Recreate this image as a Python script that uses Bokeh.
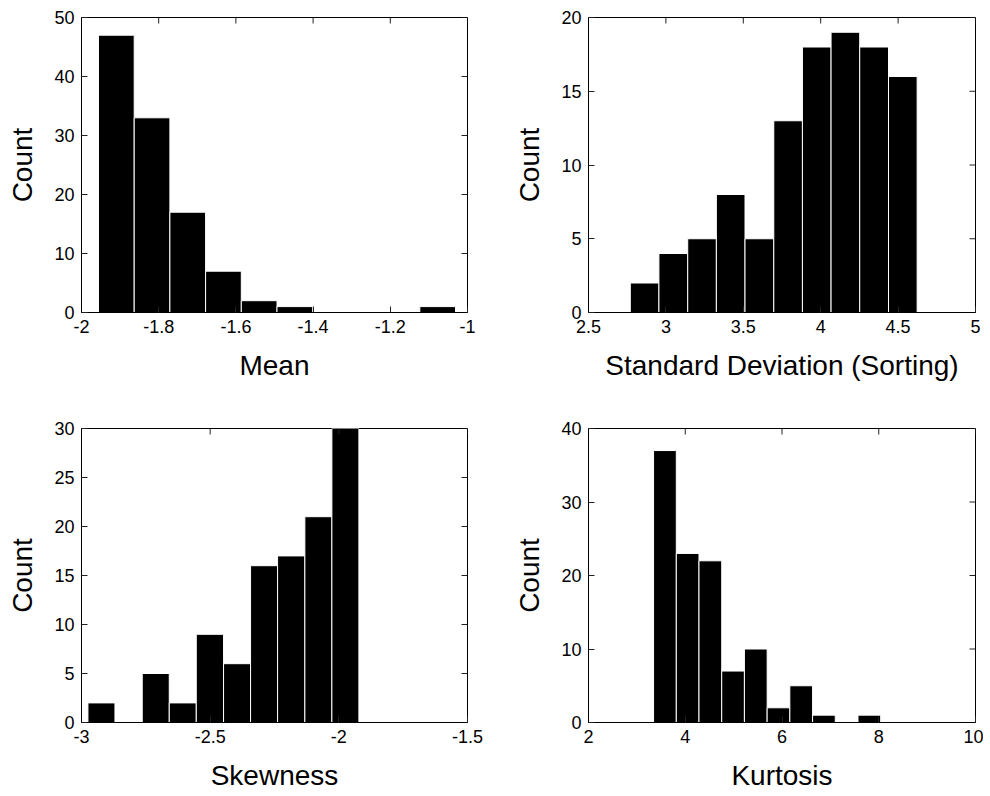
import math
from bokeh.plotting import figure
from bokeh.layouts import column, row
from bokeh.models import Range1d, FixedTicker, CustomJSTickFormatter, ColumnDataSource
from bokeh.embed import file_html
from bokeh.resources import INLINE

# ---------------- data ----------------
mean_edges = [-1.956, -1.8635, -1.771, -1.6785, -1.586, -1.4935, -1.401, -1.3085, -1.216, -1.1235, -1.031]
mean_counts = [47, 33, 17, 7, 2, 1, 0, 0, 0, 1]
mean_xticks = [-2, -1.8, -1.6, -1.4, -1.2, -1]
mean_xlabels = ["-2", "-1.8", "-1.6", "-1.4", "-1.2", "-1"]
mean_yticks = [0, 10, 20, 30, 40, 50]

std_edges = [2.770, 2.955, 3.141, 3.326, 3.511, 3.697, 3.882, 4.067, 4.252, 4.438, 4.623]
std_counts = [2, 4, 5, 8, 5, 13, 18, 19, 18, 16]
std_xticks = [2.5, 3, 3.5, 4, 4.5, 5]
std_xlabels = ["2.5", "3", "3.5", "4", "4.5", "5"]
std_yticks = [0, 5, 10, 15, 20]

skew_edges = [-2.975, -2.870, -2.764, -2.659, -2.554, -2.448, -2.343, -2.238, -2.132, -2.027, -1.922]
skew_counts = [2, 0, 5, 2, 9, 6, 16, 17, 21, 30]
skew_xticks = [-3, -2.5, -2, -1.5]
skew_xlabels = ["-3", "-2.5", "-2", "-1.5"]
skew_yticks = [0, 5, 10, 15, 20, 25, 30]

kurt_edges = [3.345, 3.815, 4.284, 4.754, 5.223, 5.693, 6.162, 6.632, 7.101, 7.571, 8.040]
kurt_counts = [37, 23, 22, 7, 10, 2, 5, 1, 0, 1]
kurt_xticks = [2, 4, 6, 8, 10]
kurt_xlabels = ["2", "4", "6", "8", "10"]
kurt_yticks = [0, 10, 20, 30, 40]

FONT = "Liberation Sans"
TICK_LEN = 6


def fmt(vals, labs):
    return CustomJSTickFormatter(
        args=dict(vals=list(vals), labs=list(labs)),
        code="const i = vals.findIndex(v => Math.abs(v - tick) < 1e-9); return i >= 0 ? labs[i] : String(tick);",
    )


def style_axis(ax, ticks, label_standoff):
    ax.ticker = FixedTicker(ticks=ticks)
    ax.major_tick_in = TICK_LEN
    ax.major_tick_out = 0
    ax.minor_tick_in = 0
    ax.minor_tick_out = 0
    ax.axis_line_color = "black"
    ax.major_tick_line_color = "#222222"
    ax.major_label_text_font = FONT
    ax.major_label_text_font_size = "18px"
    ax.major_label_text_color = "black"
    ax.major_label_standoff = 7
    ax.axis_label_text_font = FONT
    ax.axis_label_text_font_size = "28px"
    ax.axis_label_text_font_style = "normal"
    ax.axis_label_text_color = "black"
    ax.axis_label_standoff = label_standoff


def panel(edges, counts, xr, yr, xticks, xlabels, yticks, xlabel,
          left, right, top, bottom, fw, fh):
    p = figure(
        x_range=Range1d(*xr), y_range=Range1d(*yr),
        frame_width=fw, frame_height=fh,
        min_border_left=left, min_border_right=right,
        min_border_top=top, min_border_bottom=bottom,
        output_backend="svg", toolbar_location=None,
    )
    p.xgrid.visible = False
    p.ygrid.visible = False
    p.outline_line_color = "black"
    p.outline_line_width = 1
    p.background_fill_color = "white"
    p.border_fill_color = "white"

    src = ColumnDataSource(dict(left=edges[:-1], right=edges[1:], top=counts, bottom=[0] * len(counts)))
    p.quad(left="left", right="right", top="top", bottom="bottom", source=src,
           fill_color="black", line_color="white", line_width=1)

    xa = p.xaxis[0]
    ya = p.yaxis[0]
    style_axis(xa, xticks, 14)
    style_axis(ya, yticks, 13)
    xa.formatter = fmt(xticks, xlabels)
    ya.formatter = fmt(yticks, [str(v) for v in yticks])
    xa.axis_label = xlabel
    ya.axis_label = "Count"

    # inward tick marks on the top and right edges of the box
    p.ray(x=xticks, y=[yr[1]] * len(xticks), length=TICK_LEN, length_units="screen",
          angle=-math.pi / 2, line_color="#222222", line_width=1)
    p.ray(x=[xr[1]] * len(yticks), y=yticks, length=TICK_LEN, length_units="screen",
          angle=math.pi, line_color="#222222", line_width=1)
    return p


p1 = panel(mean_edges, mean_counts, (-2, -1), (0, 50), mean_xticks, mean_xlabels, mean_yticks, "Mean",
           81, 31, 17, 96, 386, 295)
p2 = panel(std_edges, std_counts, (2.5, 5), (0, 20), std_xticks, std_xlabels, std_yticks, "Standard Deviation (Sorting)",
           90, 8, 17, 96, 387, 295)
p3 = panel(skew_edges, skew_counts, (-3, -1.5), (0, 30), skew_xticks, skew_xlabels, skew_yticks, "Skewness",
           81, 31, 20, 40, 386, 294)
p4 = panel(kurt_edges, kurt_counts, (2, 10), (0, 40), kurt_xticks, kurt_xlabels, kurt_yticks, "Kurtosis",
           90, 8, 20, 40, 387, 294)

layout = column(row(p1, p2, spacing=0), row(p3, p4, spacing=0), spacing=0)

open("out.html", "w").write(file_html(layout, INLINE))
